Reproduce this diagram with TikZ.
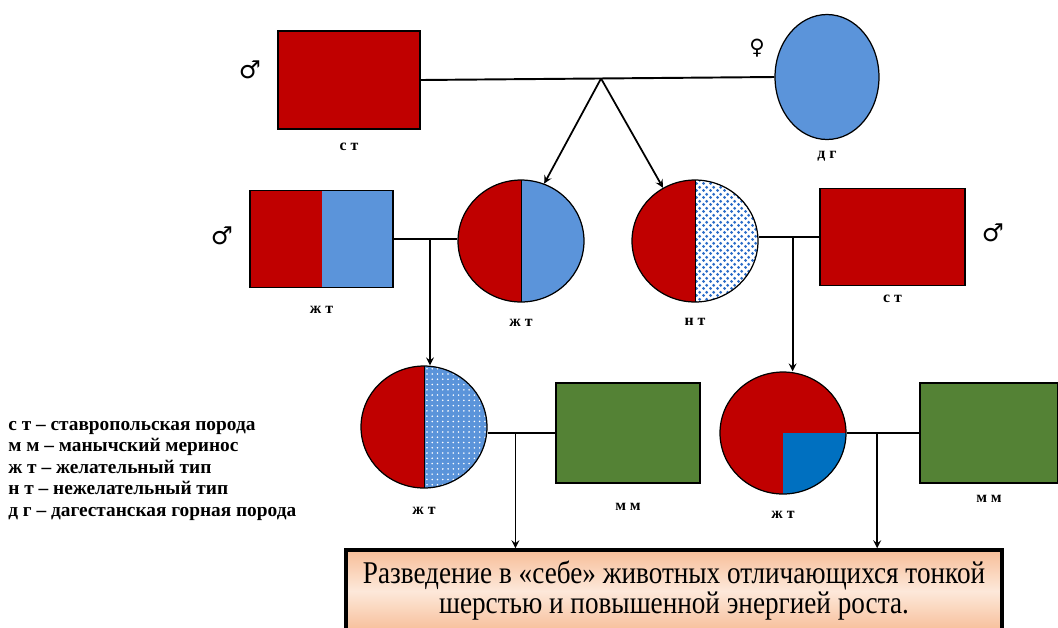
\documentclass[tikz,border=0pt]{standalone}
\usepackage{fontspec}
\setmainfont{Liberation Serif}
\newfontfamily\symfont{DejaVu Sans}
\newfontfamily\boxfont[FakeStretch=0.86]{Liberation Serif}
\usepackage{tikz}
\usetikzlibrary{positioning,calc,shapes.geometric,patterns}
\definecolor{stred}{HTML}{C00000}
\definecolor{dgblue}{HTML}{5B94DA}
\definecolor{qblue}{HTML}{0070C0}
\definecolor{dotblue}{HTML}{2A6CC8}
\definecolor{mmgreen}{HTML}{548235}
\definecolor{boxedge}{HTML}{F7BE98}
\definecolor{boxmid}{HTML}{FDE8DA}
\newcommand{\ppb}{path picture bounding box}
\pgfdeclarepatternformonly{rings}{\pgfpointorigin}{\pgfpoint{4pt}{4pt}}{\pgfpoint{4pt}{4pt}}{
	\pgfpathcircle{\pgfpoint{1pt}{1pt}}{1pt}
	\pgfpathcircle{\pgfpoint{3pt}{3pt}}{1pt}
	\pgfusepath{fill}}

\begin{document}
\begin{tikzpicture}[x=0.02cm,y=-0.02cm,
	ram/.style={draw=black,line width=0.7pt,rectangle,minimum width=2.86cm,minimum height=1.94cm,inner sep=0pt},
	ewe/.style={draw=black,line width=0.7pt,ellipse,minimum width=2.52cm,minimum height=2.44cm,inner sep=0pt},
	halfewe/.style={ewe,path picture={
		\fill[stred] (\ppb.south west) rectangle (\ppb.north);
		\fill[#1] (\ppb.south) rectangle (\ppb.north east);
		\draw[line width=0.4pt] (\ppb.south) -- (\ppb.north);}},
	lbl/.style={inner sep=0pt,font=\bfseries\fontsize{9}{10}\selectfont},
	sex/.style={inner sep=0pt,font=\symfont\fontsize{14}{14}\selectfont},
	link/.style={line width=1.1pt},
	kid/.style={-stealth,line width=1pt}]
	\useasboundingbox (0,0) rectangle (1058,627);

	% parents
	\node[ram,fill=stred,minimum width=2.84cm,minimum height=1.96cm] (p1) at (349,80) {};
	\node[ewe,fill=dgblue,minimum width=2.08cm,minimum height=2.5cm] (p2) at (827,77) {};
	\node[lbl,below=0.26cm of p1] (p1l) {с т};
	\node[lbl,below=0.22cm of p2] (p2l) {д г};
	\node[sex] (s1) at (250,70) {♂};
	\node[sex,font=\symfont\fontsize{12}{12}\selectfont] (s2) at (757,48) {♀};

	% first generation
	\node[ram,path picture={
		\fill[stred] (\ppb.south west) rectangle (\ppb.north);
		\fill[dgblue] (\ppb.south) rectangle (\ppb.north east);}] (f1) at (321.5,239) {};
	\node[halfewe=dgblue] (f2) at (521,241) {};
	\node[halfewe={fill=white,postaction={pattern=rings,pattern color=dotblue}}] (f3) at (695,241) {};
	\node[ram,fill=stred,minimum width=2.9cm] (f4) at (892.5,237) {};
	\node[lbl,below=0.36cm of f1] (f1l) {ж т};
	\node[lbl,below=0.32cm of f2] (f2l) {ж т};
	\node[lbl,below=0.3cm of f3] (f3l) {н т};
	\node[lbl,below=0.18cm of f4] (f4l) {с т};
	\node[sex] (s3) at (222,236) {♂};
	\node[sex] (s4) at (993,233) {♂};

	% second generation
	\node[halfewe={fill=dgblue,postaction={pattern=dots,pattern color=white}}] (g1) at (424,427) {};
	\node[ram,fill=mmgreen,minimum width=2.88cm,minimum height=2cm] (g2) at (628,433) {};
	\node[ewe,fill=stred,path picture={
		\fill[qblue] (\ppb.center) rectangle (\ppb.south east);}] (g3) at (783,433) {};
	\node[ram,fill=mmgreen,minimum width=2.76cm,minimum height=2cm] (g4) at (989,433) {};
	\node[lbl,below=0.36cm of g1] (g1l) {ж т};
	\node[lbl,below=0.38cm of g2] (g2l) {м м};
	\node[lbl,below=0.32cm of g3] (g3l) {ж т};
	\node[lbl,below=0.22cm of g4] (g4l) {м м};

	% result
	\node[draw=black,line width=2pt,minimum width=13.12cm,minimum height=1.64cm,align=center,
		top color=boxedge,bottom color=boxedge,middle color=boxmid,
		font=\boxfont\fontsize{18}{15.8}\selectfont] (res) at (674,591)
		{Разведение в «себе» животных отличающихся тонкой\\шерстью и повышенной энергией роста.};

	% legend
	\node[anchor=north west,inner sep=0pt,align=left,font=\bfseries\fontsize{11}{12.2}\selectfont] (key) at (8,421)
		{с т – ставропольская порода\\м м – манычский меринос\\ж т – желательный тип\\н т – нежелательный тип\\д г – дагестанская горная порода};

	% connectors
	\draw[link] (p1.east) -- coordinate[pos=0.51] (m1) (p2.west);
	\draw[kid] (m1) -- (f2.68);
	\draw[kid] (m1) -- (f3.121);
	\draw[link] (f1.east) -- coordinate[pos=0.57] (m2) (f1.east -| f2.west);
	\draw[kid] (m2) -- (m2 |- g1.north);
	\draw[link] (f3.east |- f4.west) -- coordinate[pos=0.56] (m3) (f4.west);
	\draw[kid] (m3) -- (m3 |- g3.north);
	\draw[link] (g1.east |- g2.west) -- coordinate[pos=0.41] (m4) (g2.west);
	\draw[kid] (m4) -- (m4 |- res.north);
	\draw[link] (g3.east) -- coordinate[pos=0.42] (m5) (g4.west);
	\draw[kid] (m5) -- (m5 |- res.north);
\end{tikzpicture}
\end{document}
